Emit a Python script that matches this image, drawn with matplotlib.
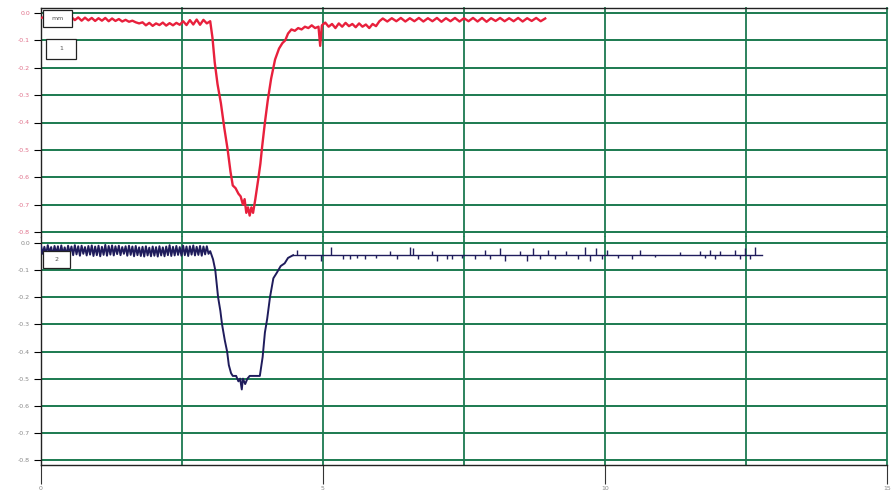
import numpy as np
import matplotlib
matplotlib.use("Agg")
import matplotlib.pyplot as plt
from matplotlib.patches import Rectangle

# channel 1 (red trace, upper panel)
red_t = [0.00, 0.06, 0.12, 0.18, 0.24, 0.30, 0.36, 0.42, 0.48, 0.54,
         0.60, 0.66, 0.72, 0.78, 0.84, 0.90, 0.96, 1.02, 1.08, 1.14,
         1.20, 1.26, 1.32, 1.38, 1.44, 1.50, 1.56, 1.62, 1.68, 1.74,
         1.80, 1.86, 1.92, 1.98, 2.04, 2.10, 2.16, 2.22, 2.28, 2.34,
         2.40, 2.46, 2.52, 2.58, 2.64, 2.70, 2.76, 2.82, 2.88, 2.94,
         3.00, 3.04, 3.08, 3.13, 3.19, 3.25, 3.31, 3.36, 3.40, 3.45,
         3.50, 3.54, 3.58, 3.61, 3.64, 3.67, 3.70, 3.73, 3.76, 3.80,
         3.85, 3.89, 3.92, 3.97, 4.02, 4.08, 4.15, 4.22, 4.28, 4.33,
         4.38, 4.44, 4.50, 4.56, 4.62, 4.68, 4.74, 4.80, 4.86, 4.92,
         4.95, 4.98, 5.04, 5.10, 5.16, 5.22, 5.28, 5.34, 5.40, 5.46,
         5.52, 5.58, 5.64, 5.70, 5.76, 5.82, 5.88, 5.94, 6.00, 6.06,
         6.14, 6.22, 6.30, 6.38, 6.46, 6.54, 6.62, 6.70, 6.78, 6.86,
         6.94, 7.02, 7.10, 7.18, 7.26, 7.34, 7.42, 7.50, 7.58, 7.66,
         7.74, 7.82, 7.90, 7.98, 8.06, 8.14, 8.22, 8.30, 8.38, 8.46,
         8.54, 8.62, 8.70, 8.78, 8.86, 8.94]
red_v = [-0.018, -0.015, -0.022, -0.016, -0.020, -0.015, -0.021, -0.017, -0.019, -0.015,
         -0.026, -0.016, -0.028, -0.017, -0.027, -0.018, -0.029, -0.019, -0.028, -0.018,
         -0.030, -0.020, -0.029, -0.022, -0.031, -0.025, -0.032, -0.028, -0.034, -0.038,
         -0.034, -0.045, -0.036, -0.047, -0.038, -0.044, -0.035, -0.046, -0.037, -0.045,
         -0.036, -0.043, -0.030, -0.044, -0.026, -0.042, -0.024, -0.043, -0.025, -0.038,
         -0.030, -0.090, -0.180, -0.260, -0.330, -0.420, -0.500, -0.580, -0.630, -0.640,
         -0.660, -0.670, -0.700, -0.680, -0.730, -0.710, -0.740, -0.710, -0.730, -0.680,
         -0.610, -0.550, -0.490, -0.400, -0.320, -0.240, -0.170, -0.130, -0.110, -0.100,
         -0.075, -0.060, -0.065, -0.055, -0.060, -0.050, -0.055, -0.045, -0.055, -0.050,
         -0.120, -0.045, -0.035, -0.050, -0.040, -0.055, -0.038, -0.050, -0.036, -0.048,
         -0.040, -0.052, -0.038, -0.050, -0.042, -0.055, -0.040, -0.048, -0.030, -0.020,
         -0.031, -0.019, -0.030, -0.018, -0.031, -0.019, -0.030, -0.018, -0.031, -0.019,
         -0.030, -0.018, -0.032, -0.019, -0.030, -0.018, -0.031, -0.019, -0.030, -0.018,
         -0.031, -0.018, -0.032, -0.019, -0.029, -0.018, -0.030, -0.019, -0.030, -0.018,
         -0.031, -0.019, -0.029, -0.018, -0.030, -0.020]

# channel 2 (dark trace, lower panel)
nav_t = [0.00, 0.03, 0.06, 0.09, 0.12, 0.15, 0.18, 0.21, 0.24, 0.27,
         0.30, 0.33, 0.36, 0.39, 0.42, 0.45, 0.48, 0.51, 0.54, 0.57,
         0.60, 0.63, 0.66, 0.69, 0.72, 0.75, 0.78, 0.81, 0.84, 0.87,
         0.90, 0.93, 0.96, 0.99, 1.02, 1.05, 1.08, 1.11, 1.14, 1.17,
         1.20, 1.23, 1.26, 1.29, 1.32, 1.35, 1.38, 1.41, 1.44, 1.47,
         1.50, 1.53, 1.56, 1.59, 1.62, 1.65, 1.68, 1.71, 1.74, 1.77,
         1.80, 1.83, 1.86, 1.89, 1.92, 1.95, 1.98, 2.01, 2.04, 2.07,
         2.10, 2.13, 2.16, 2.19, 2.22, 2.25, 2.28, 2.31, 2.34, 2.37,
         2.40, 2.43, 2.46, 2.49, 2.52, 2.55, 2.58, 2.61, 2.64, 2.67,
         2.70, 2.73, 2.76, 2.79, 2.82, 2.85, 2.88, 2.91, 2.94, 2.97,
         3.00, 3.05, 3.09, 3.14, 3.18, 3.21, 3.26, 3.30, 3.33, 3.37,
         3.40, 3.46, 3.50, 3.53, 3.56, 3.58, 3.62, 3.66, 3.70, 3.80,
         3.88, 3.93, 3.97, 4.01, 4.06, 4.12, 4.18, 4.25, 4.32, 4.38,
         4.47]
nav_v = [-0.010, -0.040, -0.014, -0.042, -0.008, -0.036, -0.015, -0.045, -0.011, -0.039,
         -0.012, -0.046, -0.009, -0.041, -0.016, -0.044, -0.010, -0.038, -0.013, -0.045,
         -0.008, -0.042, -0.012, -0.047, -0.010, -0.040, -0.015, -0.046, -0.011, -0.043,
         -0.009, -0.048, -0.013, -0.045, -0.010, -0.049, -0.014, -0.044, -0.007, -0.047,
         -0.011, -0.043, -0.009, -0.046, -0.012, -0.041, -0.010, -0.045, -0.015, -0.040,
         -0.012, -0.047, -0.010, -0.044, -0.013, -0.049, -0.011, -0.045, -0.016, -0.048,
         -0.014, -0.050, -0.012, -0.046, -0.017, -0.049, -0.013, -0.047, -0.015, -0.050,
         -0.012, -0.046, -0.016, -0.049, -0.013, -0.045, -0.008, -0.048, -0.014, -0.046,
         -0.011, -0.044, -0.015, -0.047, -0.010, -0.045, -0.013, -0.048, -0.012, -0.043,
         -0.009, -0.046, -0.014, -0.044, -0.011, -0.047, -0.013, -0.042, -0.012, -0.040,
         -0.030, -0.060, -0.100, -0.200, -0.250, -0.300, -0.360, -0.400, -0.450, -0.480,
         -0.490, -0.490, -0.510, -0.500, -0.540, -0.500, -0.520, -0.500, -0.490, -0.490,
         -0.490, -0.420, -0.330, -0.280, -0.200, -0.130, -0.110, -0.085, -0.075, -0.055,
         -0.045]
nav_base = -0.044
nav_end = 12.78
spike_t = [4.54, 4.68, 4.96, 5.14, 5.35, 5.48, 5.60, 5.74, 5.94, 6.19,
           6.31, 6.54, 6.60, 6.68, 6.93, 7.02, 7.20, 7.29, 7.46, 7.70,
           7.87, 7.96, 8.14, 8.23, 8.49, 8.62, 8.72, 8.85, 8.99, 9.11,
           9.31, 9.52, 9.65, 9.73, 9.84, 9.95, 10.04, 10.23, 10.48, 10.62,
           10.89, 11.33, 11.68, 11.77, 11.86, 11.95, 12.04, 12.30, 12.39, 12.48,
           12.57, 12.66]
spike_v = [-0.025, -0.060, -0.065, -0.015, -0.060, -0.060, -0.055, -0.060, -0.055, -0.030,
           -0.060, -0.015, -0.020, -0.060, -0.030, -0.065, -0.060, -0.060, -0.055, -0.060,
           -0.025, -0.060, -0.020, -0.065, -0.030, -0.065, -0.020, -0.060, -0.025, -0.060,
           -0.030, -0.060, -0.015, -0.065, -0.020, -0.060, -0.025, -0.055, -0.060, -0.025,
           -0.050, -0.035, -0.030, -0.055, -0.025, -0.060, -0.030, -0.025, -0.060, -0.020,
           -0.060, -0.015]

ytick_vals = [0.0, -0.1, -0.2, -0.3, -0.4, -0.5, -0.6, -0.7, -0.8]
ytick_labels = ["0.0", "-0.1", "-0.2", "-0.3", "-0.4", "-0.5", "-0.6", "-0.7", "-0.8"]
xtick_vals = [0, 5, 10, 15]
xtick_labels = ["0", "5", "10", "15"]
xgrid_vals = [2.5, 5, 7.5, 10, 12.5, 15]

GREEN = "#1b7a50"
RED = "#e8203c"
NAVY = "#1f1c5c"

fig = plt.figure(figsize=(8.92, 4.92), dpi=100)
left = 41 / 892
width = (887 - 41) / 892
ax1 = fig.add_axes([left, 1 - 237 / 492, width, 229 / 492])
ax2 = fig.add_axes([left, 1 - 465 / 492, width, 228 / 492])


def style(ax, ylim, label_color):
    ax.set_xlim(0, 15)
    ax.set_ylim(*ylim)
    for y in ytick_vals:
        ax.axhline(y, color=GREEN, lw=1.4, zorder=1)
    for x in xgrid_vals:
        ax.axvline(x, color=GREEN, lw=1.3, zorder=1, clip_on=False)
    ax.set_yticks(ytick_vals)
    ax.set_yticklabels(ytick_labels)
    ax.tick_params(axis="y", direction="out", length=5, width=0.8, colors="black",
                   labelsize=4.5, labelcolor=label_color, pad=3)
    ax.spines["right"].set_visible(False)
    for s in ax.spines.values():
        s.set_color("#222222")
        s.set_linewidth(1.0)


style(ax1, (-0.8183, 0.0183), "#e0708a")
style(ax2, (-0.8184, 0.0221), "#888888")

ax1.spines["bottom"].set_visible(False)
ax1.set_xticks([])
ax2.spines["top"].set_visible(False)
ax2.set_xticks(xtick_vals)
ax2.set_xticklabels(xtick_labels)
ax2.tick_params(axis="x", direction="out", length=14, width=0.8, colors="#333333",
                labelsize=4.5, labelcolor="#888888", pad=1)

ax1.plot(red_t, red_v, color=RED, lw=1.7, zorder=3)
ax2.plot(nav_t, nav_v, color=NAVY, lw=1.4, zorder=3)
ax2.plot([nav_t[-1], nav_end], [nav_base, nav_base], color=NAVY, lw=1.0, zorder=3)
ax2.vlines(spike_t, nav_base, spike_v, color=NAVY, lw=1.0, zorder=3)

# channel label boxes
boxes = [(ax1, 0.0024, 0.917, 0.0342, 0.074, "mm"),
         (ax1, 0.0059, 0.777, 0.0355, 0.088, "1"),
         (ax2, 0.0024, 0.864, 0.0319, 0.075, "2")]
for ax, bx, by, bw, bh, txt in boxes:
    ax.add_patch(Rectangle((bx, by), bw, bh, transform=ax.transAxes, facecolor="white",
                           edgecolor="#222222", lw=0.9, zorder=5))
    ax.text(bx + bw / 2, by + bh / 2, txt, transform=ax.transAxes, fontsize=4.5,
            color="#555555", ha="center", va="center", zorder=6)

fig.savefig("out.png", dpi=100)
